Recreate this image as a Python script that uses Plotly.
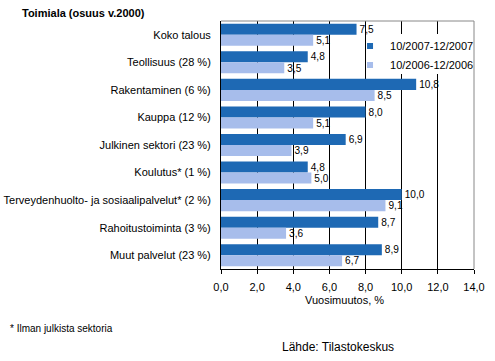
import plotly.graph_objects as go

categories = ["Koko talous", "Teollisuus (28 %)", "Rakentaminen (6 %)", "Kauppa (12 %)",
              "Julkinen sektori (23 %)", "Koulutus* (1 %)",
              "Terveydenhuolto- ja sosiaalipalvelut* (2 %)", "Rahoitustoiminta (3 %)",
              "Muut palvelut (23 %)"]
series_2007 = [7.5, 4.8, 10.8, 8.0, 6.9, 4.8, 10.0, 8.7, 8.9]
series_2006 = [5.1, 3.5, 8.5, 5.1, 3.9, 5.0, 9.1, 3.6, 6.7]
name_2007 = "10/2007-12/2007"
name_2006 = "10/2006-12/2006"
x_ticks = [0, 2, 4, 6, 8, 10, 12, 14]

FONT = "Liberation Sans, Arial, sans-serif"
C1 = "#1E69B4"
C2 = "#A7BDEB"

def lab(v):
    return f"{v:.1f}".replace(".", ",")

fig = go.Figure()
fig.add_trace(go.Bar(y=categories, x=series_2007, name=name_2007, orientation="h",
                     showlegend=False,
                     marker=dict(color=C1, line=dict(width=0)),
                     text=[lab(v) for v in series_2007], textposition="outside",
                     textfont=dict(size=11, color="black", family=FONT), cliponaxis=False))
fig.add_trace(go.Bar(y=categories, x=series_2006, name=name_2006, orientation="h",
                     showlegend=False,
                     marker=dict(color=C2, line=dict(width=0)),
                     text=[lab(v) for v in series_2006], textposition="outside",
                     textfont=dict(size=11, color="black", family=FONT), cliponaxis=False))
# legend entries (small square keys like the reference)
fig.add_trace(go.Scatter(x=[None], y=[None], mode="markers", name=name_2007,
                         marker=dict(symbol="square", size=6, color=C1)))
fig.add_trace(go.Scatter(x=[None], y=[None], mode="markers", name=name_2006,
                         marker=dict(symbol="square", size=6, color=C2)))

fig.update_layout(
    width=495, height=361,
    margin=dict(l=221, r=21, t=21, b=92, autoexpand=False),
    paper_bgcolor="white", plot_bgcolor="white",
    barmode="group", bargap=0.2, bargroupgap=0,
    separators=", ",
    font=dict(family=FONT, size=11, color="black"),
    showlegend=True,
    legend=dict(x=0.510, y=0.958, xanchor="left", yanchor="top",
                bgcolor="rgba(0,0,0,0)",
                font=dict(size=11, family=FONT), traceorder="normal", itemwidth=30),
    xaxis=dict(range=[0, 14], tickvals=x_ticks, ticktext=[lab(v) for v in x_ticks],
               showgrid=True, gridcolor="black", gridwidth=1,
               showline=True, linecolor="black", linewidth=1,
               ticks="outside", ticklen=4, tickcolor="black",
               tickfont=dict(size=11), zeroline=False, automargin=False,
               ticklabelstandoff=4),
    yaxis=dict(autorange="reversed", showline=True, linecolor="black", linewidth=1,
               ticks="", tickfont=dict(size=11), ticklabelstandoff=7, automargin=False),
    shapes=[
        dict(type="rect", xref="paper", yref="paper",
             x0=(370 - 221) / 253, x1=(473 - 221) / 253,
             y0=(269 - 74) / 248, y1=(269 - 34) / 248,
             fillcolor="white", line=dict(width=0), layer="above"),
        dict(type="line", xref="paper", yref="paper", x0=0, x1=1, y0=1, y1=1,
             line=dict(color="#888888", width=1), layer="above"),
        dict(type="line", xref="paper", yref="paper", x0=1, x1=1, y0=0, y1=1,
             line=dict(color="#888888", width=1), layer="above"),
    ],
    annotations=[
        dict(text="<b>Toimiala (osuus v.2000)</b>", xref="paper", yref="paper",
             x=-0.794, y=1.032, xanchor="left", yanchor="middle", showarrow=False,
             font=dict(size=11)),
        dict(text="Vuosimuutos, %", xref="paper", yref="paper",
             x=0.49, y=-0.125, xanchor="center", yanchor="middle", showarrow=False,
             font=dict(size=11)),
        dict(text="* Ilman julkista sektoria", xref="paper", yref="paper",
             x=-0.842, y=-0.238, xanchor="left", yanchor="middle", showarrow=False,
             font=dict(size=10)),
        dict(text="Lähde: Tilastokeskus", xref="paper", yref="paper",
             x=0.233, y=-0.315, xanchor="left", yanchor="middle", showarrow=False,
             font=dict(size=12)),
    ],
)

fig.write_html("out.html", config={"displayModeBar": False},
               post_script="document.body.style.margin='0';")
